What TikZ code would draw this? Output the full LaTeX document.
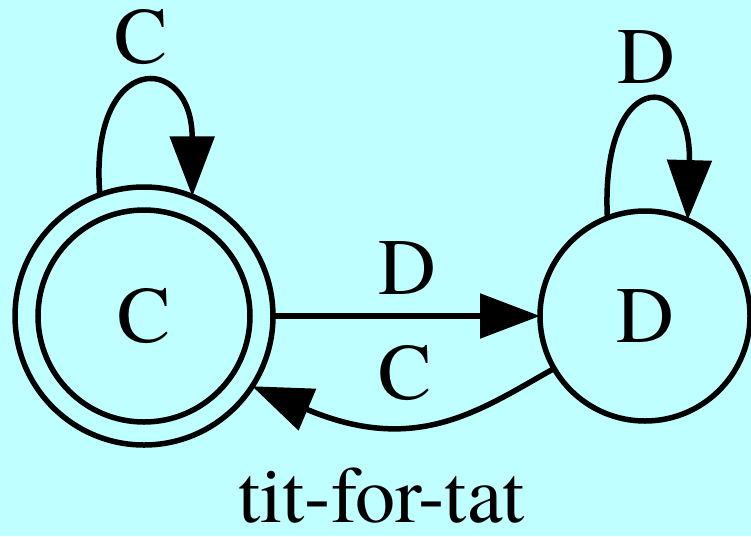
\documentclass[tikz,border=0pt]{standalone}
\usepackage{fontspec}
\newfontfamily\tms{texgyretermes-regular.otf}
\usetikzlibrary{arrows.meta}
\definecolor{bg}{RGB}{192,255,255}
\begin{document}
\begin{tikzpicture}[x=1pt,y=-1pt,
  every node/.style={font=\tms\fontsize{80}{80}\selectfont},
  statenode/.style={circle,draw,line width=5.5pt,inner sep=0pt,outer sep=0pt},
  edgeline/.style={line width=5.5pt,-{Triangle[length=60pt,width=44pt]}},
  lbl/.style={inner sep=0pt}]
\fill[bg] (0,0) rectangle (751,536);
\useasboundingbox (0,0) rectangle (751,536);
\node[statenode,minimum size=258pt] (C) at (144,316) {C};
\draw[line width=5.5pt] (C.center) circle (106pt);
\node[statenode,minimum size=210pt] (D) at (645,316) {D};
\draw[edgeline] (C.east) -- (D.west);
\draw[edgeline] (C.110.9) .. controls (88,51) and (192,51) .. (C.68);
\draw[edgeline] (D.111.7) .. controls (600,68) and (692,68) .. (D.66.8);
\draw[edgeline] (D.210.4) .. controls (480,410) and (417,456) .. (C.-33.3);
\node[lbl] (lC1) at (141,37) {C};
\node[lbl] (lD1) at (646,57) {D};
\node[lbl] (lD2) at (407,268) {D};
\node[lbl] (lC2) at (405,373) {C};
\node[lbl,anchor=base] (title) at (381.5,522) {tit-for-tat};
\end{tikzpicture}
\end{document}
